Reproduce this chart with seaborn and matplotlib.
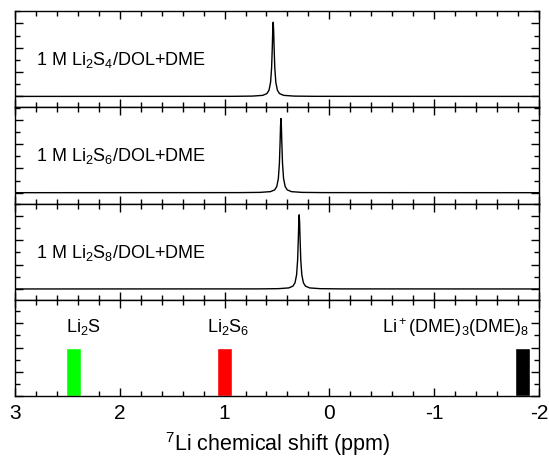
import numpy as np
import pandas as pd
import matplotlib
matplotlib.use('Agg')
import matplotlib.pyplot as plt
from matplotlib.ticker import MultipleLocator
import seaborn as sns

# spectra: one sharp peak per sample, same line shape
sample_labels = ['1 M Li$_2$S$_4$/DOL+DME',
                 '1 M Li$_2$S$_6$/DOL+DME',
                 '1 M Li$_2$S$_8$/DOL+DME']
peak_centers = [0.536, 0.462, 0.288]
peak_height = 3.05
peak_offsets = [-0.4, -0.2, -0.1, -0.06, -0.04, -0.025, -0.015, -0.008, -0.004, 0.0,
                0.004, 0.008, 0.015, 0.025, 0.04, 0.06, 0.1, 0.2, 0.4]
peak_profile = [0.001, 0.004, 0.014, 0.038, 0.083, 0.19, 0.39, 0.69, 0.9, 1.0,
                0.9, 0.69, 0.39, 0.19, 0.083, 0.038, 0.014, 0.004, 0.001]

# reference shifts in the bottom panel
ref_labels = ['Li$_2$S', 'Li$_2$S$_6$', 'Li$^+$(DME)$_3$(DME)$_8$']
ref_shifts = [2.44, 1.0, -1.84]
ref_heights = [2.0, 2.0, 2.0]
ref_colors = ['#00ff00', '#ff0000', '#000000']

sns.set_theme(style='ticks')
plt.rcParams['font.family'] = ['Liberation Sans', 'DejaVu Sans']
plt.rcParams['mathtext.default'] = 'regular'
plt.rcParams['axes.linewidth'] = 1.0
plt.rcParams['axes.edgecolor'] = 'black'
plt.rcParams['text.color'] = 'black'
plt.rcParams['axes.labelcolor'] = 'black'

fig, axes = plt.subplots(4, 1, sharex=True, figsize=(5.49, 4.64), dpi=100)
fig.subplots_adjust(left=0.027, right=0.982, top=0.974, bottom=0.144, hspace=0)

for ax, label, center in zip(axes[:3], sample_labels, peak_centers):
    xs = [-2.0] + [center + o for o in peak_offsets] + [3.0]
    ys = [0.0] + [peak_height * p for p in peak_profile] + [0.0]
    df = pd.DataFrame({'shift': xs, 'intensity': ys})
    sns.lineplot(data=df, x='shift', y='intensity', ax=ax, color='black',
                 linewidth=1.0, estimator=None)
    ax.set_ylim(-0.45, 3.51)
    ax.text(0.041, 0.5, label, transform=ax.transAxes, va='center',
            ha='left', fontsize=13, color='black')

ax = axes[3]
ax.bar(ref_shifts, ref_heights, width=0.14, color=ref_colors)
ax.set_ylim(0, 3.96)
ax.text(ref_shifts[0] + 0.07, 2.88, ref_labels[0], ha='left', va='center',
        fontsize=13, color='black')
ax.text(ref_shifts[1] - 0.03, 2.88, ref_labels[1], ha='center', va='center',
        fontsize=13, color='black')
ax.text(-1.91, 2.88, ref_labels[2], ha='right', va='center',
        fontsize=13, color='black')

for ax in axes:
    ax.set_xlim(3, -2)
    ax.xaxis.set_major_locator(MultipleLocator(1))
    ax.xaxis.set_minor_locator(MultipleLocator(0.2))
    ax.yaxis.set_major_locator(MultipleLocator(1))
    ax.yaxis.set_minor_locator(MultipleLocator(0.5))
    ax.tick_params(which='both', direction='in', top=True, right=True,
                   bottom=True, left=True, width=1.0, colors='black',
                   labelleft=False)
    ax.tick_params(which='major', length=6)
    ax.tick_params(which='minor', length=3.5)
    ax.set_xlabel('')
    ax.set_ylabel('')

axes[3].set_xticks([3, 2, 1, 0, -1, -2])
axes[3].set_xticklabels(['3', '2', '1', '0', '-1', '-2'])
axes[3].tick_params(axis='x', labelsize=15, pad=5)
axes[3].set_xlabel('$^7$Li chemical shift (ppm)', fontsize=15.5, labelpad=5,
                   color='black')

plt.savefig('out.png', dpi=100)
